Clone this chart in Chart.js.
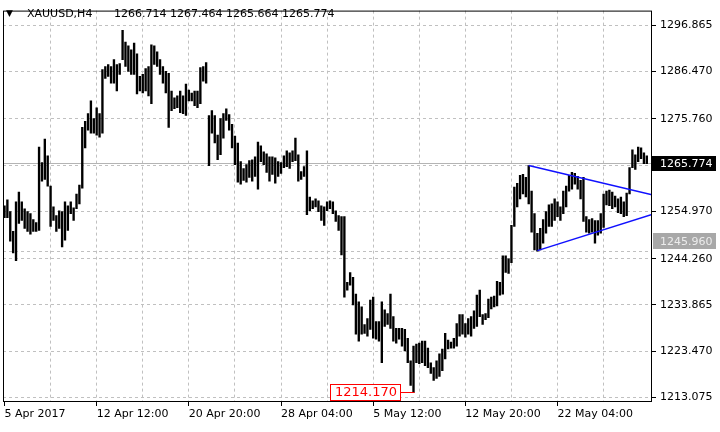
<!DOCTYPE html>
<html>
<head>
<meta charset="utf-8">
<script src="https://cdn.jsdelivr.net/npm/chart.js@4/dist/chart.umd.min.js"></script>
<style>
html,body{margin:0;padding:0;background:#fff;}
#wrap{width:720px;height:432px;position:relative;}
</style>
</head>
<body>
<div id="wrap"><canvas id="c" width="720" height="432"></canvas></div>
<script>
// ---- data ----
const symbol = 'XAUUSD,H4';
const lastOHLC = [1266.714, 1267.464, 1265.664, 1265.774];

const highs = [
1256.20,1257.52,1254.87,1250.45,1257.08,1259.29,1257.08,1255.53,1254.87,1254.43,
1253.10,1252.44,1269.45,1265.92,1271.22,1267.47,1260.62,1255.97,1253.99,1255.09,
1254.87,1257.08,1256.20,1257.08,1255.75,1258.85,1260.84,1273.87,1275.20,1276.97,
1279.84,1275.86,1278.29,1276.97,1286.91,1287.58,1288.02,1287.58,1289.12,1288.02,
1288.24,1295.75,1293.10,1292.22,1291.33,1292.88,1290.45,1285.37,1285.81,1287.13,
1287.58,1292.44,1292.22,1290.89,1289.12,1287.58,1286.47,1286.03,1282.05,1280.50,
1280.95,1282.05,1280.95,1283.60,1282.27,1281.61,1282.05,1282.05,1287.35,1287.58,
1288.46,1276.53,1277.63,1276.53,1272.11,1275.86,1276.97,1278.07,1276.75,1274.54,
1271.89,1270.34,1266.14,1264.59,1265.48,1266.36,1266.58,1267.24,1270.56,1269.68,
1268.35,1267.91,1267.24,1267.24,1267.02,1266.14,1265.92,1267.47,1268.57,1268.13,
1268.57,1271.44,1267.69,1263.93,1265.04,1268.57,1258.18,1257.30,1257.74,1257.30,
1256.20,1255.97,1257.08,1257.30,1257.08,1255.09,1253.99,1253.76,1253.76,1238.96,
1241.17,1240.06,1236.31,1234.54,1233.43,1229.46,1230.78,1234.98,1235.64,1230.12,
1230.12,1234.54,1232.77,1231.89,1236.31,1231.22,1228.57,1228.57,1228.57,1228.35,
1226.36,1221.28,1224.59,1225.04,1225.26,1225.70,1225.70,1224.15,1220.84,1219.73,
1221.28,1222.83,1223.93,1227.47,1225.92,1225.48,1226.36,1229.68,1231.67,1231.67,
1229.68,1230.78,1231.22,1232.55,1236.09,1237.19,1231.67,1231.89,1235.20,1235.64,
1235.86,1239.18,1238.96,1244.93,1244.93,1244.26,1251.78,1260.39,1261.28,1263.05,
1263.27,1262.60,1265.26,1259.51,1254.43,1250.01,1251.11,1253.10,1254.87,1256.42,
1256.64,1257.74,1257.08,1255.97,1259.51,1260.62,1263.05,1263.71,1263.49,1262.83,
1261.94,1262.60,1253.76,1253.10,1253.32,1252.88,1252.88,1254.43,1258.85,1259.51,
1259.73,1259.29,1258.41,1257.74,1258.18,1257.08,1259.07,1264.81,1268.79,1267.69,
1269.45,1269.23,1268.13,1267.464
];

const lows = [
1253.54,1253.54,1248.24,1245.59,1243.82,1252.22,1252.88,1251.11,1250.45,1249.79,
1250.45,1250.45,1250.67,1261.72,1262.16,1260.62,1251.55,1252.88,1250.45,1251.11,
1246.91,1248.46,1250.67,1254.43,1252.88,1255.53,1256.64,1260.17,1269.23,1273.21,
1272.55,1272.55,1272.11,1271.66,1272.55,1284.92,1285.37,1283.82,1283.82,1282.05,
1285.81,1289.12,1287.58,1286.47,1285.81,1285.81,1281.39,1282.05,1281.61,1282.05,
1280.95,1279.18,1288.02,1287.58,1285.81,1283.82,1281.61,1273.87,1277.63,1278.07,
1278.29,1277.19,1276.97,1276.53,1279.84,1279.84,1278.74,1278.29,1279.18,1284.26,
1283.82,1265.26,1272.55,1270.34,1266.58,1267.69,1271.44,1275.42,1273.21,1269.23,
1265.48,1261.50,1261.06,1261.94,1261.50,1262.60,1261.72,1262.83,1259.95,1266.14,
1265.48,1263.71,1261.72,1263.27,1261.28,1262.83,1263.49,1264.81,1265.04,1264.59,
1266.14,1266.36,1261.72,1262.16,1262.83,1254.21,1255.09,1255.53,1255.97,1254.87,
1252.88,1251.78,1255.09,1255.53,1254.43,1252.66,1250.67,1245.15,1235.64,1237.19,
1238.30,1233.88,1227.25,1225.70,1227.25,1227.47,1226.80,1228.35,1226.36,1226.14,
1225.70,1220.84,1229.01,1229.46,1228.57,1225.70,1225.26,1226.14,1224.59,1223.49,
1220.84,1215.75,1214.17,1220.84,1220.62,1220.84,1220.17,1219.73,1218.41,1216.86,
1217.30,1217.74,1219.07,1221.72,1223.93,1224.15,1224.15,1224.59,1226.80,1227.25,
1226.58,1227.25,1226.80,1228.57,1229.01,1231.22,1229.46,1230.56,1231.00,1232.99,
1233.43,1233.65,1236.09,1236.31,1241.17,1240.95,1243.38,1251.55,1255.97,1257.74,
1258.85,1258.18,1256.64,1250.23,1246.25,1245.96,1246.25,1247.80,1250.01,1251.55,
1251.55,1252.88,1253.76,1252.88,1254.43,1255.97,1259.51,1259.95,1261.06,1259.95,
1257.74,1252.66,1250.23,1250.01,1250.23,1247.80,1249.57,1250.01,1251.33,1256.42,
1256.20,1255.53,1255.97,1254.65,1254.43,1253.76,1253.99,1258.85,1264.81,1264.37,
1266.14,1266.80,1265.70,1265.664
];

const xLabelIdx = [0, 32, 64, 96, 128, 160, 192];
const xLabels = ['5 Apr 2017', '12 Apr 12:00', '20 Apr 20:00', '28 Apr 04:00', '5 May 12:00', '12 May 20:00', '22 May 04:00'];
const xGridIdx = [0, 16, 32, 48, 64, 80, 96, 112, 128, 144, 160, 176, 192, 208];
const yTicks = [1213.075, 1223.470, 1233.865, 1244.260, 1254.970, 1265.365, 1275.760, 1286.470, 1296.865];
const yHiddenTick = 1265.365;

const upperTrend = [{x: 182, y: 1265.26}, {x: 224.8, y: 1258.69}];
const lowerTrend = [{x: 185, y: 1246.10}, {x: 224.8, y: 1254.23}];
const levelLine = 1245.960;
const lowIdx = 142;
const lowVal = 1214.170;

// axis ranges
const xMin = -0.52, xMax = 224.8;
const yMin = 1211.997, yMax = 1300.172;

// ---- build ----
const barData = highs.map((h, i) => ({x: i, y: [lows[i], h]}));

Chart.defaults.font.family = '"DejaVu Sans", sans-serif';
Chart.defaults.font.size = 11;
Chart.defaults.color = '#000';

const gridColor = '#c0c0c0';
const FONT = '"DejaVu Sans", sans-serif';

const overlay = {
  id: 'overlay',
  beforeDatasetsDraw(chart) {
    const {ctx, chartArea: a, scales: {y}} = chart;
    ctx.save();
    ctx.lineWidth = 1;
    const yp = Math.round(y.getPixelForValue(lastOHLC[3])) + 0.5;
    ctx.strokeStyle = '#b4b4b4';
    ctx.beginPath(); ctx.moveTo(a.left, yp); ctx.lineTo(a.right, yp); ctx.stroke();
    const yl = Math.round(y.getPixelForValue(levelLine)) + 0.5;
    ctx.setLineDash([3, 3]);
    ctx.strokeStyle = gridColor;
    ctx.beginPath(); ctx.moveTo(a.left, yl); ctx.lineTo(a.right, yl); ctx.stroke();
    ctx.restore();
  },
  afterDraw(chart) {
    const {ctx, chartArea: a, scales: {x, y}} = chart;
    ctx.save();
    // frame
    ctx.strokeStyle = '#000';
    ctx.lineWidth = 1;
    ctx.strokeRect(a.left + 0.5, a.top + 0.5, a.right - a.left - 1, a.bottom - a.top - 1);

    // current price box
    ctx.textBaseline = 'middle';
    ctx.textAlign = 'left';
    ctx.font = '11px ' + FONT;
    const yp = Math.round(y.getPixelForValue(lastOHLC[3]));
    ctx.fillStyle = '#000';
    ctx.fillRect(a.right, yp - 7, 64, 15);
    ctx.fillStyle = '#fff';
    ctx.fillText(lastOHLC[3].toFixed(3), a.right + 8, yp + 1);

    // level box
    const yl = Math.round(y.getPixelForValue(levelLine));
    ctx.fillStyle = '#a8a8a8';
    ctx.fillRect(a.right + 1, yl - 18, 63, 16);
    ctx.fillStyle = '#ececec';
    ctx.fillText(levelLine.toFixed(3), a.right + 8, yl - 9);

    // low label
    const xb = x.getPixelForValue(lowIdx);
    const yb = Math.round(y.getPixelForValue(lowVal));
    const bw = 70, bh = 17;
    const bx = Math.round(xb - 14 - bw);
    ctx.strokeStyle = '#ff0000';
    ctx.lineWidth = 1;
    ctx.beginPath(); ctx.moveTo(bx + bw, yb + 0.5); ctx.lineTo(xb + 1, yb + 0.5); ctx.stroke();
    ctx.fillStyle = '#fff';
    ctx.fillRect(bx, yb - 8, bw, bh);
    ctx.strokeRect(bx + 0.5, yb - 8 + 0.5, bw, bh - 1);
    ctx.fillStyle = '#ff0000';
    ctx.font = '13px ' + FONT;
    ctx.textAlign = 'center';
    ctx.fillText(lowVal.toFixed(3), bx + bw / 2 + 1, yb + 1);

    // header
    ctx.textAlign = 'left';
    ctx.fillStyle = '#000';
    ctx.font = '9px ' + FONT;
    ctx.fillText('\u25BC', 6, 14);
    ctx.font = '11px ' + FONT;
    ctx.fillText(symbol, 27, 14);
    ctx.fillText(lastOHLC.map(v => v.toFixed(3)).join(' '), 114, 14);
    ctx.restore();
  }
};

new Chart(document.getElementById('c'), {
  type: 'bar',
  data: {
    datasets: [
      {type: 'bar', data: barData, backgroundColor: '#000', borderWidth: 0, barThickness: 1.7, grouped: false, order: 3},
      {type: 'line', data: upperTrend, borderColor: '#1010ff', borderWidth: 1.5, pointRadius: 0, fill: false, order: 1},
      {type: 'line', data: lowerTrend, borderColor: '#1010ff', borderWidth: 1.5, pointRadius: 0, fill: false, order: 1}
    ]
  },
  options: {
    responsive: false,
    animation: false,
    devicePixelRatio: 1,
    layout: {padding: {left: 3, top: 3, right: 0, bottom: 0}},
    plugins: {legend: {display: false}, tooltip: {enabled: false}, title: {display: false}},
    scales: {
      x: {
        type: 'linear', min: xMin, max: xMax, offset: false,
        grid: {
          offset: false,
          color: c => (c.tick && c.tick.value === 0) ? 'rgba(0,0,0,0)' : gridColor,
          borderDash: [3, 3],
          tickLength: 4,
          tickColor: c => (c.tick && xLabelIdx.includes(c.tick.value)) ? '#000' : 'rgba(0,0,0,0)'
        },
        border: {display: false, dash: [3, 3]},
        afterBuildTicks: s => { s.ticks = xGridIdx.map(v => ({value: v})); },
        afterFit: s => { s.height = 30; },
        ticks: {
          autoSkip: false, maxRotation: 0, minRotation: 0, align: 'start', padding: 2,
          callback: v => { const k = xLabelIdx.indexOf(v); return k >= 0 ? xLabels[k] : ''; }
        }
      },
      y: {
        type: 'linear', position: 'right', min: yMin, max: yMax,
        grid: {color: gridColor, borderDash: [3, 3], tickLength: 4, tickColor: '#000'},
        border: {display: false, dash: [3, 3]},
        afterBuildTicks: s => { s.ticks = yTicks.map(v => ({value: v})); },
        afterFit: s => { s.width = 68; },
        ticks: {padding: 4, callback: v => v === yHiddenTick ? '' : v.toFixed(3)}
      }
    }
  },
  plugins: [overlay]
});
</script>
</body>
</html>
